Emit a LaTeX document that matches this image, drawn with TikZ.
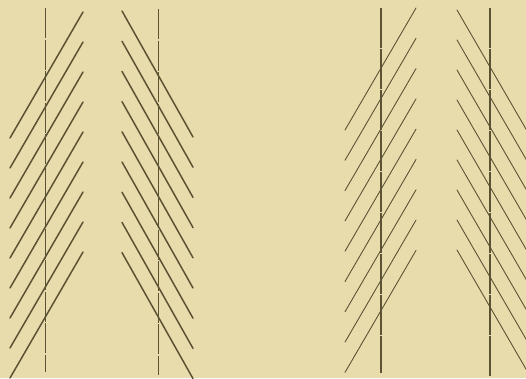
\documentclass[tikz,border=0pt]{standalone}
\usepackage{xcolor}
\usepackage{tikz}

\definecolor{paper}{RGB}{233,220,172}
\definecolor{ink}{RGB}{92,82,52}

\begin{document}
\begin{tikzpicture}[x=1pt, y=-1pt,
  hatch/.style={draw=ink, line width=1.5pt, line cap=round},
  thinhatch/.style={draw=ink, line width=0.9pt, line cap=round},
  axis/.style={draw=ink, line width=1pt, dash pattern=on 30pt off 1.5pt},
  boldaxis/.style={draw=ink, line width=2pt, dash pattern=on 40pt off 1pt}]
  % paper and frame
  \fill[paper] (0,0) rectangle (526,378);
  \useasboundingbox (0,0) rectangle (526,378);
  \clip (0,0) rectangle (526,378);
  % left pair: heavy hatching, thin axes
  \foreach \i in {0,...,8} {
    \draw[hatch] (83,12+30*\i) -- (10,138+30*\i);
    \draw[hatch] (122,11+30.2*\i) -- (193,137+30.2*\i);
  }
  \draw[axis] (45,8) -- (45,372);
  \draw[axis] (158,9) -- (158,375);
  % right pair: light hatching, heavy axes
  \foreach \i in {0,...,8} {
    \draw[thinhatch] (416,8+30.3*\i) -- (345,130+30.3*\i);
    \draw[thinhatch] (457,10+30*\i) -- (530,136+30*\i);
  }
  \draw[boldaxis] (381,8) -- (381,373);
  \draw[boldaxis] (490,8) -- (490,376);
\end{tikzpicture}
\end{document}
